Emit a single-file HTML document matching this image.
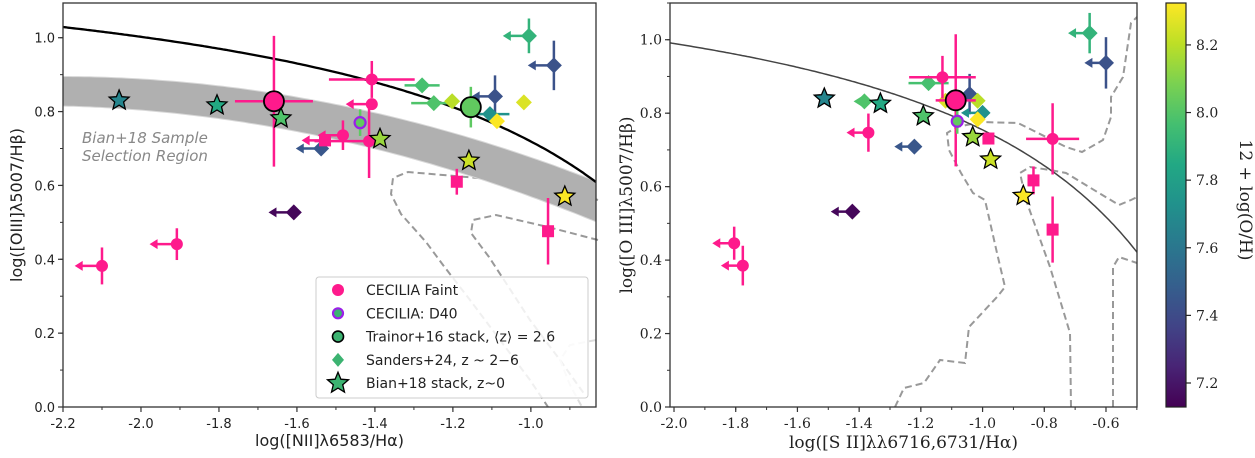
<!DOCTYPE html>
<html><head><meta charset="utf-8"><style>
html,body{margin:0;padding:0;background:#fff;}
svg{display:block;}
.sans{font-family:"DejaVu Sans","Liberation Sans",sans-serif;}
.serif{font-family:"DejaVu Serif","Liberation Serif",serif;}
</style></head><body>
<svg id="chart" width="1255" height="458" viewBox="0 0 1255 458" xmlns="http://www.w3.org/2000/svg">
<g id="L"></g>
<g id="R"></g>
<g id="CB"></g>
</svg>
<script>
// ---------- Left panel data (NII BPT) ----------
const LfaintX=[-1.659,-1.408,-1.408,-1.415,-1.482,-1.908,-2.100];
const LfaintY=[0.828,0.887,0.820,0.720,0.736,0.441,0.382];
const LfaintXlo=[0.10,0.11,0,0.14,0,0,0];
const LfaintXhi=[0.10,0.11,0,0,0,0,0];
const LfaintYerr=[0.177,0.05,0,0.10,0.04,0.043,0.05];
const LfaintLim=[0,0,0.067,0,0.065,0.07,0.07];
const LfaintBig=[1,0,0,0,0,0,0];
const LsqX=[-1.528,-1.19,-0.956];
const LsqY=[0.722,0.61,0.476];
const LsqYerr=[0,0.035,0.09];
const LsqLim=[0.06,0,0];
const LsandX=[-1.005,-0.941,-1.279,-1.249,-1.202,-1.092,-1.105,-1.087,-1.018,-1.538,-1.608];
const LsandY=[1.005,0.925,0.871,0.823,0.828,0.841,0.793,0.774,0.825,0.700,0.527];
const LsandZ=[7.905,7.43,7.97,7.99,8.20,7.43,7.73,8.32,8.26,7.45,7.15];
const LsandXerr=[0,0,0.045,0.058,0,0,0.05,0,0,0,0];
const LsandYerr=[0.047,0.067,0,0,0,0.057,0,0,0,0,0];
const LsandLim=[0.067,0.067,0,0,0,0.06,0,0,0,0.065,0.065];
const LbianX=[-2.056,-1.805,-1.641,-1.387,-1.159,-0.913];
const LbianY=[0.830,0.817,0.782,0.726,0.667,0.570];
const LbianZ=[7.67,7.85,7.99,8.14,8.23,8.32];
const Ld40=[-1.438,0.770,0.036,8.03];
const Ltrainor=[-1.154,0.812,0.055,8.03];
// ---------- Right panel data (SII BPT) ----------
const RfaintX=[-1.087,-1.130,-1.37,-0.773,-1.805,-1.777];
const RfaintY=[0.835,0.898,0.747,0.730,0.446,0.385];
const RfaintXlo=[0.065,0.108,0,0.086,0,0];
const RfaintXhi=[0.065,0.108,0,0.086,0,0];
const RfaintYerr=[0.18,0.058,0.052,0.097,0.045,0.054];
const RfaintLim=[0,0,0.071,0,0.071,0.071];
const RfaintBig=[1,0,0,0,0,0];
const RsqX=[-0.981,-0.835,-0.773];
const RsqY=[0.731,0.617,0.483];
const RsqYerr=[0,0.038,0.09];
const RsqLim=[0,0,0];
const RsandX=[-0.653,-0.600,-1.175,-1.042,-1.016,-1.12,-1.000,-1.016,-1.221,-1.422,-1.383];
const RsandY=[1.018,0.937,0.882,0.852,0.834,0.834,0.801,0.783,0.709,0.532,0.832];
const RsandZ=[7.905,7.43,7.97,7.43,8.20,8.26,7.73,8.32,7.45,7.15,7.99];
const RsandXerr=[0,0,0.065,0,0,0,0,0,0,0,0];
const RsandYerr=[0.055,0.07,0,0.055,0,0,0,0,0,0,0];
const RsandLim=[0.07,0.07,0,0,0,0,0.07,0,0.065,0.07,0.035];
const RbianX=[-1.513,-1.331,-1.192,-1.032,-0.974,-0.868];
const RbianY=[0.840,0.826,0.792,0.735,0.674,0.575];
const RbianZ=[7.67,7.85,7.99,8.14,8.23,8.32];
const Rd40=[-1.082,0.778,0.034,8.03];
// ---------- axes ----------
const LxTicks=[-2.2,-2.0,-1.8,-1.6,-1.4,-1.2,-1.0];
const LyTicks=[0.0,0.2,0.4,0.6,0.8,1.0];
const RxTicks=[-2.0,-1.8,-1.6,-1.4,-1.2,-1.0,-0.8,-0.6];
const RyTicks=[0.0,0.2,0.4,0.6,0.8,1.0];
const cbTicks=[7.2,7.4,7.6,7.8,8.0,8.2];

const NS="http://www.w3.org/2000/svg";
const PINK="#fe1a8c";
const ZMIN=7.129,ZMAX=8.324;
const VIR=["#440154","#482475","#414487","#355f8d","#2a788e","#21918c","#22a884","#44bf70","#7ad151","#bddf26","#fde725"];
function hex(h){return [1,3,5].map(i=>parseInt(h.substr(i,2),16));}
function viridis(z){let t=Math.max(0,Math.min(1,(z-ZMIN)/(ZMAX-ZMIN)))*10;let i=Math.min(9,Math.floor(t));let f=t-i;let a=hex(VIR[i]),b=hex(VIR[i+1]);return "rgb("+a.map((v,k)=>Math.round(v+(b[k]-v)*f)).join(",")+")";}
function el(p,tag,attrs){const e=document.createElementNS(NS,tag);for(const k in attrs)e.setAttribute(k,attrs[k]);p.appendChild(e);return e;}
function txt(p,x,y,s,attrs){const e=el(p,"text",Object.assign({x:x,y:y},attrs));e.textContent=s;return e;}

function makePanel(g,box,xr,yr){
  const sx=v=>box.x0+(v-xr[0])/(xr[1]-xr[0])*(box.x1-box.x0);
  const sy=v=>box.y1-(v-yr[0])/(yr[1]-yr[0])*(box.y1-box.y0);
  return {g,box,sx,sy,xr,yr};
}
function drawAxes(P,xt,yt,cls,fs,xlabel,ylabel,ylx,xly,xn,yn,lfs){
  const g=P.g,b=P.box;
  for(let k=Math.ceil(P.xr[0]*10-1e-6);k<=Math.floor(P.xr[1]*10+1e-6);k++){const x=P.sx(k/10);
    const mt=el(g,"line",{x1:x,x2:x,y1:b.y1,y2:b.y1+3,stroke:"#333","stroke-width":1});
    
    }
  for(let k=Math.ceil(P.yr[0]*10-1e-6);k<=Math.floor(P.yr[1]*10+1e-6);k++){const y=P.sy(k/10);
    const mt=el(g,"line",{x1:b.x0-3,x2:b.x0,y1:y,y2:y,stroke:"#333","stroke-width":1});
    
    }
  xt.forEach(v=>{const x=P.sx(v);
    const t=el(g,"line",{x1:x,x2:x,y1:b.y1,y2:b.y1+5,stroke:"#333","stroke-width":1.2});
    
    
    const l=txt(g,x,b.y1+21,v.toFixed(1),{class:cls,"font-size":fs,"text-anchor":"middle",fill:"#222"});
    
    });
  yt.forEach(v=>{const y=P.sy(v);
    const t=el(g,"line",{x1:b.x0-5,x2:b.x0,y1:y,y2:y,stroke:"#333","stroke-width":1.2});
    
    
    const l=txt(g,b.x0-8,y+5,v.toFixed(1),{class:cls,"font-size":fs,"text-anchor":"end",fill:"#222"});
    
    });
  const sp=el(g,"rect",{x:b.x0,y:b.y0,width:b.x1-b.x0,height:b.y1-b.y0,fill:"none",stroke:"#333","stroke-width":1.3});
  
  
  const xl=txt(g,(b.x0+b.x1)/2,xly,xlabel,{class:cls,"font-size":lfs,"text-anchor":"middle",fill:"#222"});
  
  
  const yl=txt(g,0,0,ylabel,{class:cls,"font-size":lfs,"text-anchor":"middle",fill:"#222",transform:`translate(${ylx},${(b.y0+b.y1)/2}) rotate(-90)`});
  
  
}
function curve(P,f,x0,x1,attrs,name){let d="";for(let i=0;i<=200;i++){const v=x0+(x1-x0)*i/200;d+=(i?"L":"M")+P.sx(v).toFixed(1)+","+P.sy(f(v)).toFixed(1);}
  const e=el(P.g,"path",Object.assign({d:d,fill:"none"},attrs));
  
  return e;}
function poly(g,pts,name,extra){const e=el(g,"polyline",Object.assign({points:pts.map(p=>p.join(",")).join(" "),fill:"none",stroke:"#999","stroke-width":2,"stroke-dasharray":"7,4"},extra||{}));
  
  }
function errbar(P,x,y,xlo,xhi,yerr,col,w,name){
  if(xlo||xhi){const e=el(P.g,"line",{x1:P.sx(x-xlo),x2:P.sx(x+xhi),y1:P.sy(y),y2:P.sy(y),stroke:col,"stroke-width":w});
    
    }
  if(yerr){const e=el(P.g,"line",{x1:P.sx(x),x2:P.sx(x),y1:P.sy(y-yerr),y2:P.sy(y+yerr),stroke:col,"stroke-width":w});
    
    }
}
function arrow(P,x,y,len,col,name){const X=P.sx(x),Y=P.sy(y),X2=P.sx(x-len);
  const l=el(P.g,"line",{x1:X,x2:X2+5,y1:Y,y2:Y,stroke:col,"stroke-width":2.5});
  
  
  const h=el(P.g,"path",{d:`M${X2},${Y} L${X2+8},${Y-5} L${X2+8},${Y+5} Z`,fill:col});
  
  }
function starPath(cx,cy,R){let d="";for(let i=0;i<10;i++){const r=i%2?R*0.45:R;const a=-Math.PI/2+i*Math.PI/5;d+=(i?"L":"M")+(cx+r*Math.cos(a)).toFixed(1)+","+(cy+r*Math.sin(a)).toFixed(1);}return d+"Z";}

function drawSeries(P,F,B,d40,tr){
  const g=P.g;
  F.sx.forEach((x,i)=>{const c=viridis(F.sz[i]);
    errbar(P,x,F.sy[i],F.sxe[i],F.sxe[i],F.sye[i],c,2.5,'sanders');
    if(F.sl[i])arrow(P,x,F.sy[i],F.sl[i],c,'sanders');
    const X=P.sx(x),Y=P.sy(F.sy[i]);
    const m=el(g,"path",{d:`M${X},${Y-8} L${X+8},${Y} L${X},${Y+8} L${X-8},${Y} Z`,fill:c});
    
    });
  F.fx.forEach((x,i)=>{errbar(P,x,F.fy[i],F.fxl[i],F.fxh[i],F.fye[i],PINK,2.5,'cecilia-faint');
    if(F.fl[i])arrow(P,x,F.fy[i],F.fl[i],PINK,'cecilia-faint');});
  F.qx.forEach((x,i)=>{errbar(P,x,F.qy[i],0,0,F.qye[i],PINK,2.5,'cecilia-square');
    if(F.ql[i])arrow(P,x,F.qy[i],F.ql[i],PINK,'cecilia-square');
    const m=el(g,"rect",{x:P.sx(x)-6,y:P.sy(F.qy[i])-6,width:12,height:12,fill:PINK});
    
    });
  {errbar(P,d40[0],d40[1],0,0,d40[2],"#5ec962",2.5,'d40');
   const m=el(g,"circle",{cx:P.sx(d40[0]),cy:P.sy(d40[1]),r:5.5,fill:viridis(d40[3]),stroke:"#9b1fe8","stroke-width":2.2});
   
   }
  F.fx.forEach((x,i)=>{if(F.fb[i])return;
    const m=el(g,"circle",{cx:P.sx(x),cy:P.sy(F.fy[i]),r:6,fill:PINK});
    
    });
  B.x.forEach((x,i)=>{const m=el(g,"path",{d:starPath(P.sx(x),P.sy(B.y[i]),10.5),fill:viridis(B.z[i]),stroke:"#000","stroke-width":1.3,"stroke-linejoin":"miter"});
    
    });
  if(tr){errbar(P,tr[0],tr[1],0,0,tr[2],"#5ec962",2.5,'trainor');
    const m=el(g,"circle",{cx:P.sx(tr[0]),cy:P.sy(tr[1]),r:10,fill:viridis(tr[3]),stroke:"#000","stroke-width":1.8});
    
    }
  F.fx.forEach((x,i)=>{if(!F.fb[i])return;
    const m=el(g,"circle",{cx:P.sx(x),cy:P.sy(F.fy[i]),r:10,fill:PINK,stroke:"#000","stroke-width":1.8});
    
    });
}

// ======== LEFT ========
const L=makePanel(document.getElementById("L"),{x0:63,x1:596,y0:3,y1:407},[-2.2,-0.833],[0,1.094]);
{const g=L.g;
 poly(g,[[598,200],[558,188],[478,178],[408,172],[393,178],[391,194],[401,214],[426,242],[443,265],[470,300],[500,340],[530,380],[548,407]],'sdss-contour-outer');
 poly(g,[[598,240],[548,227],[496,215],[473,220],[471,233],[489,257],[506,283],[530,320],[560,360],[585,395]],'sdss-contour-inner');
 poly(g,[[596,340],[570,345],[560,360],[570,385],[582,407]],'sdss-contour-faint',{stroke:"#ddd"});
 const mid=v=>0.1017-0.670*v-0.1489*v*v;
 const hw=v=>0.04+(v+2.2)/1.367*0.015;
 let d="";const N=100;
 for(let i=0;i<=N;i++){const v=-2.2+1.367*i/N;d+=(i?"L":"M")+L.sx(v).toFixed(1)+","+L.sy(mid(v)+hw(v)).toFixed(1);}
 for(let i=N;i>=0;i--){const v=-2.2+1.367*i/N;d+="L"+L.sx(v).toFixed(1)+","+L.sy(mid(v)-hw(v)).toFixed(1);}
 const band=el(g,"path",{d:d+"Z",fill:"#b0b0b0",stroke:"#d8d8d8","stroke-width":1});
 
 
 const t1=txt(g,82,143,"Bian+18 Sample",{class:"sans","font-size":15,"font-style":"italic",fill:"#888"});
 
 
 const t2=txt(g,82,161,"Selection Region",{class:"sans","font-size":15,"font-style":"italic",fill:"#888"});
 
 
 curve(L,v=>0.61/(v-0.05)+1.3,-2.2,-0.833,{stroke:"#000","stroke-width":2.3},'kauffmann-curve');
}
drawSeries(L,{fx:LfaintX,fy:LfaintY,fxl:LfaintXlo,fxh:LfaintXhi,fye:LfaintYerr,fl:LfaintLim,fb:LfaintBig,
  qx:LsqX,qy:LsqY,qye:LsqYerr,ql:LsqLim,sx:LsandX,sy:LsandY,sz:LsandZ,sxe:LsandXerr,sye:LsandYerr,sl:LsandLim},
  {x:LbianX,y:LbianY,z:LbianZ},Ld40,Ltrainor);
drawAxes(L,LxTicks,LyTicks,"sans",13,"log([NII]λ6583/Hα)","log([OIII]λ5007/Hβ)",22,446,'x-axis-title','y-axis-title',16);
{const g=L.g;
 const lg=el(g,"g",{});
 
 
 const bx=el(lg,"rect",{x:316,y:277,width:272,height:121,rx:3,fill:"#fff","fill-opacity":0.85,stroke:"#ccc","stroke-width":1});
 
 
 const labels=["CECILIA Faint","CECILIA: D40","Trainor+16 stack, ⟨z⟩ = 2.6","Sanders+24, z ~ 2−6","Bian+18 stack, z~0"];
 labels.forEach((s,i)=>{const y=290+i*23.3;const mx=338;
   let m;
   if(i==0)m=el(lg,"circle",{cx:mx,cy:y,r:6,fill:PINK});
   if(i==1)m=el(lg,"circle",{cx:mx,cy:y,r:5,fill:"#3cb371",stroke:"#9b1fe8","stroke-width":2.2});
   if(i==2)m=el(lg,"circle",{cx:mx,cy:y,r:5.5,fill:"#3cb371",stroke:"#000","stroke-width":1.6});
   if(i==3)m=el(lg,"path",{d:`M${mx},${y-7} L${mx+6},${y} L${mx},${y+7} L${mx-6},${y} Z`,fill:"#3cb371"});
   if(i==4)m=el(lg,"path",{d:starPath(mx,y,11),fill:"#3cb371",stroke:"#000","stroke-width":1.3});
   
   
   const t=txt(lg,366,y+5,s,{class:"sans","font-size":14,fill:"#222"});
   
   });
}

// ======== RIGHT ========
const R=makePanel(document.getElementById("R"),{x0:670,x1:1137,y0:3,y1:407},[-2.013,-0.4995],[0,1.1]);
{const g=R.g;
 poly(g,[[895,407],[904,388],[924,383],[940,360],[965,363],[969,327],[997,297],[1005,287],[997,253],[985,200],[973,193],[961,173],[949,150],[947,133],[957,127],[981,122],[1018,123],[1046,137],[1066,147],[1082,152],[1103,140],[1111,117],[1111,97],[1123,77],[1127,50],[1131,23],[1137,17]],'sii-contour-outer');
 poly(g,[[1071,407],[1070,333],[1050,267],[1026,200],[1020,173],[1030,167],[1050,170],[1066,173],[1099,193],[1119,205],[1131,200],[1137,197]],'sii-contour-middle');
 poly(g,[[1113,407],[1113,267],[1119,257],[1137,263]],'sii-contour-inner');
 curve(R,v=>0.72/(v-0.32)+1.30,-2.013,-0.4995,{stroke:"#444","stroke-width":1.5},'kewley-sii-curve');
}
drawSeries(R,{fx:RfaintX,fy:RfaintY,fxl:RfaintXlo,fxh:RfaintXhi,fye:RfaintYerr,fl:RfaintLim,fb:RfaintBig,
  qx:RsqX,qy:RsqY,qye:RsqYerr,ql:RsqLim,sx:RsandX,sy:RsandY,sz:RsandZ,sxe:RsandXerr,sye:RsandYerr,sl:RsandLim},
  {x:RbianX,y:RbianY,z:RbianZ},Rd40,null);
drawAxes(R,RxTicks,RyTicks,"serif",14,"log([S II]λλ6716,6731/Hα)","log([O III]λ5007/Hβ)",632,448,'x-axis-title-right','y-axis-title-right',17);

// ======== COLORBAR ========
{const g=document.getElementById("CB");
 const defs=el(g,"defs",{});
 const lg=el(defs,"linearGradient",{id:"vir",x1:0,y1:1,x2:0,y2:0});
 VIR.forEach((c,i)=>el(lg,"stop",{offset:(i/10),"stop-color":c}));
 const r=el(g,"rect",{x:1166,y:3,width:20,height:404,fill:"url(#vir)",stroke:"#222","stroke-width":1.2});
 
 
 const cy=v=>407-(v-ZMIN)/(ZMAX-ZMIN)*404;
 cbTicks.forEach(v=>{const y=cy(v);
   const t=el(g,"line",{x1:1186,x2:1191,y1:y,y2:y,stroke:"#222","stroke-width":1.2});
   
   
   const l=txt(g,1196,y+5,v.toFixed(1),{class:"serif","font-size":14,fill:"#222"});
   
   });
 const t=txt(g,0,0,"12 + log(O/H)",{class:"serif","font-size":17,"text-anchor":"middle",fill:"#222",transform:"translate(1240,200) rotate(90)"});
 
 
}
</script>
</body></html>
